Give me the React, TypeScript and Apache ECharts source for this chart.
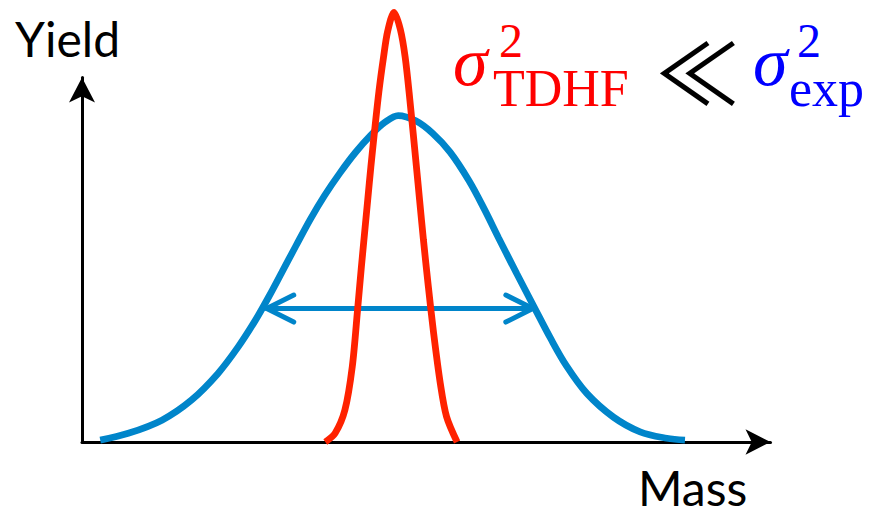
import React, { useEffect, useRef } from "react";
import * as echarts from "echarts";

// Experimental mass distribution (broad), mass in arbitrary units
const expMass = [2.6, 6.6, 11.4, 15.6, 19.4, 22.3, 24.7, 26.6, 28.5, 30.5, 32.6, 34.6, 36.8, 39.0, 41.2, 43.2, 45.1, 47.6, 50.0, 52.5, 55.2, 57.4, 59.4, 62.0, 64.6, 66.8, 69.1, 72.0, 75.8, 79.6, 83.4, 86.0];
const expYield = [0.5, 2.3, 5.8, 11.1, 18.2, 25.3, 32.2, 38.4, 45.0, 52.0, 59.2, 65.4, 71.4, 76.8, 81.4, 84.8, 86.6, 85.2, 81.9, 76.9, 69.3, 61.7, 54.2, 44.7, 35.4, 27.6, 20.2, 12.9, 6.6, 2.7, 1.0, 0.5];

// TDHF mass distribution (narrow)
const tdhfMass = [34.7, 36.1, 37.5, 38.55, 39.3, 39.85, 40.75, 41.2, 41.7, 42.35, 43.0, 43.6, 44.5, 45.4, 46.1, 46.75, 47.7, 48.15, 48.7, 49.4, 50.15, 51.1, 52.0, 53.5];
const tdhfYield = [0, 2.3, 8.5, 20, 35, 46.5, 64.2, 73, 82, 93, 102, 109, 114, 109.5, 102, 91, 73, 64.2, 53.6, 41.2, 28.9, 15.6, 6.7, 0];

// Width marker: [from, to, yield level]
const widthMarker = [26.35, 64.3, 35.4];

const massMax = 98.2;
const yieldMax = 96.7;

const BLUE = "#0085CA";
const RED = "#FF2200";

export default function App() {
  const ref = useRef<HTMLDivElement>(null);

  useEffect(() => {
    if (!ref.current) return;
    const chart = echarts.init(ref.current, null, { renderer: "svg" });

    const axisLine = (size: number[]) => ({
      show: true,
      symbol: ["none", "arrow"],
      symbolSize: size,
      lineStyle: { color: "#000", width: 3 },
    });

    chart.setOption({
      animation: false,
      backgroundColor: "#fff",
      grid: { left: 82, right: 102.5, top: 77.5, bottom: 68 },
      xAxis: {
        type: "value",
        min: 0,
        max: massMax,
        axisLine: axisLine([19, 25]),
        axisTick: { show: false },
        axisLabel: { show: false },
        splitLine: { show: false },
      },
      yAxis: {
        type: "value",
        min: 0,
        max: yieldMax,
        axisLine: axisLine([19.5, 25]),
        axisTick: { show: false },
        axisLabel: { show: false },
        splitLine: { show: false },
      },
      series: [
        {
          type: "line",
          data: expMass.map((m, i) => [m, expYield[i]]),
          showSymbol: false,
          smooth: 0.35,
          lineStyle: { color: BLUE, width: 6.8 },
          z: 2,
        },
        {
          type: "custom",
          data: [widthMarker],
          encode: { x: [0, 1], y: 2 },
          z: 3,
          renderItem: (_params: any, api: any) => {
            const a = api.coord([api.value(0), api.value(2)]);
            const b = api.coord([api.value(1), api.value(2)]);
            const dx = 27;
            const dy = 13.5;
            const style = { stroke: BLUE, lineWidth: 5, fill: "none", lineCap: "round", lineJoin: "round" };
            return {
              type: "group",
              children: [
                { type: "line", shape: { x1: a[0], y1: a[1], x2: b[0], y2: b[1] }, style },
                { type: "polyline", shape: { points: [[a[0] + dx, a[1] - dy], [a[0], a[1]], [a[0] + dx, a[1] + dy]] }, style },
                { type: "polyline", shape: { points: [[b[0] - dx, b[1] - dy], [b[0], b[1]], [b[0] - dx, b[1] + dy]] }, style },
              ],
            };
          },
        },
        {
          type: "line",
          data: tdhfMass.map((m, i) => [m, tdhfYield[i]]),
          showSymbol: false,
          smooth: 0.3,
          clip: false,
          lineStyle: { color: RED, width: 6.8 },
          z: 4,
        },
      ],
      graphic: [
        { type: "text", x: 15, y: 38.4, style: { text: "Yield", font: "48px Lato", lineHeight: 40, fill: "#000", verticalAlign: "middle" } },
        { type: "text", x: 638, y: 487, style: { text: "Mass", font: "48px Lato", lineHeight: 38, fill: "#000", verticalAlign: "middle" } },
        { type: "text", x: 453, y: 61.4, style: { text: "σ", font: "italic 70px 'Liberation Serif'", lineHeight: 36, fill: "#FF0000", verticalAlign: "middle" } },
        { type: "text", x: 499, y: 40.8, style: { text: "2", font: "48px 'Liberation Serif'", lineHeight: 30, fill: "#FF0000", verticalAlign: "middle" } },
        { type: "text", x: 493, y: 88.4, style: { text: "TDHF", font: "52px 'Liberation Serif'", lineHeight: 34, fill: "#FF0000", verticalAlign: "middle" } },
        { type: "text", x: 697.5, y: 68, style: { text: "≪", font: "84px 'Noto Sans CJK JP'", lineHeight: 48, fill: "#000", align: "center", verticalAlign: "middle" } },
        { type: "text", x: 753, y: 61.4, style: { text: "σ", font: "italic 70px 'Liberation Serif'", lineHeight: 36, fill: "#0000FF", verticalAlign: "middle" } },
        { type: "text", x: 797, y: 40.8, style: { text: "2", font: "48px 'Liberation Serif'", lineHeight: 30, fill: "#0000FF", verticalAlign: "middle" } },
        { type: "text", x: 789, y: 88.4, style: { text: "exp", font: "52px 'Liberation Serif'", lineHeight: 34, fill: "#0000FF", verticalAlign: "middle" } },
      ],
    });

    return () => chart.dispose();
  }, []);

  return (
    <div
      ref={ref}
      style={{ position: "absolute", left: 0, top: 0, width: 873, height: 510, background: "#fff" }}
    />
  );
}
